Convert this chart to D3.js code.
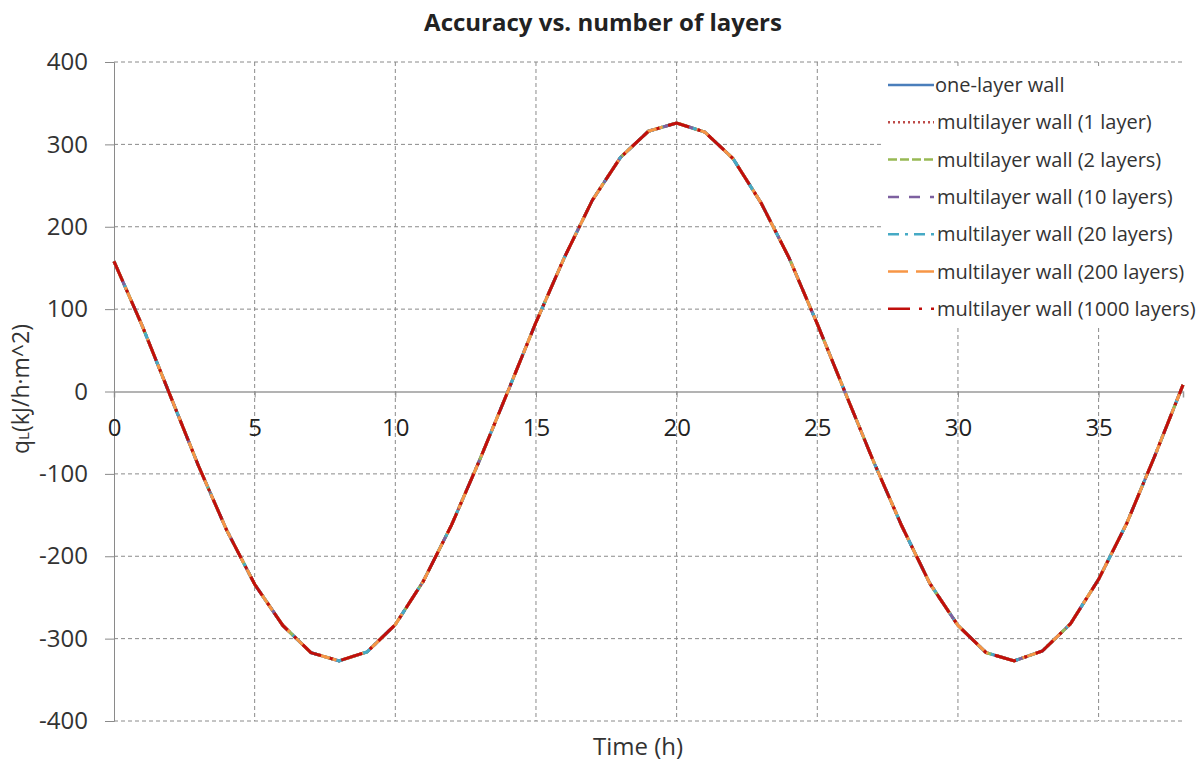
<!DOCTYPE html>
<html>
<head>
<meta charset="utf-8">
<script src="https://cdn.jsdelivr.net/npm/d3@7"></script>
<style>
  body { margin: 0; background: #fff; }
  svg text { font-family: "Open Sans", Lato, sans-serif; fill: #222; }
</style>
</head>
<body>
<div id="chart"></div>
<script>

// hours
var hours = [0, 1, 2, 3, 4, 5, 6, 7, 8, 9, 10, 11, 12, 13, 14, 15, 16, 17, 18, 19,
    20, 21, 22, 23, 24, 25, 26, 27, 28, 29, 30, 31, 32, 33, 34, 35, 36, 37, 38];

// qL (all seven curves lie on top of each other)
var qValues = [158, 80, -5, -90, -168, -234, -284, -317, -327, -316, -283, -230, -162, -83, 0,
    84, 162, 232, 284, 316, 326, 315, 283, 229, 162, 82, -2, -85, -163, -233, -284, -317, -327,
    -315, -282, -228, -160, -78, 8];

var seriesNames = ["one-layer wall", "multilayer wall (1 layer)", "multilayer wall (2 layers)",
    "multilayer wall (10 layers)", "multilayer wall (20 layers)", "multilayer wall (200 layers)",
    "multilayer wall (1000 layers)"];
var seriesColors = ["#4a7ebb", "#be4b48", "#98b954", "#7d60a0", "#46aac5", "#f79646", "#c00f0c"];
var seriesDash = [null, "2,3", "9,3", "11,10", "11,6,3,6", "20,8", "22,9,3,9"];

var xTicks = [0, 5, 10, 15, 20, 25, 30, 35];
var yTicks = [-400, -300, -200, -100, 0, 100, 200, 300, 400];

var width = 1201, height = 762;
var margin = {top: 62, right: 18, bottom: 41, left: 114};

var svg = d3.select("#chart").append("svg")
    .attr("width", width)
    .attr("height", height);

var x = d3.scaleLinear().domain([0, 38]).range([margin.left, width - margin.right]);
var y = d3.scaleLinear().domain([-400, 400]).range([height - margin.bottom, margin.top]);

var gridColor = "#8a8a8a";

// horizontal grid
svg.append("g")
    .selectAll("line")
    .data(yTicks.filter(d => d !== 0))
    .enter().append("line")
    .attr("x1", x(0)).attr("x2", x(38))
    .attr("y1", d => y(d)).attr("y2", d => y(d))
    .attr("stroke", gridColor)
    .attr("stroke-width", 1)
    .attr("stroke-dasharray", "4,3");

// vertical grid
svg.append("g")
    .selectAll("line")
    .data(xTicks.filter(d => d !== 0))
    .enter().append("line")
    .attr("x1", d => x(d)).attr("x2", d => x(d))
    .attr("y1", y(400)).attr("y2", y(-400))
    .attr("stroke", gridColor)
    .attr("stroke-width", 1)
    .attr("stroke-dasharray", "4,3");

// y axis (plain hyphen for negatives, like the original)
var yAxis = d3.axisLeft(y).tickValues(yTicks).tickSize(9).tickPadding(17)
    .tickFormat(d => String(d));
var yg = svg.append("g")
    .attr("transform", "translate(" + x(0) + ",0)")
    .call(yAxis);
yg.select(".domain").attr("stroke", gridColor);
yg.selectAll(".tick line").attr("stroke", gridColor);
yg.selectAll(".tick text")
    .style("font-size", "24px")
    .style("fill", "#333");

// x axis sits on zero line
var xAxis = d3.axisBottom(x).tickValues(xTicks).tickSize(6).tickPadding(21);
var xg = svg.append("g")
    .attr("transform", "translate(0," + y(0) + ")")
    .call(xAxis);
xg.select(".domain").attr("stroke", "#9a9a9a").attr("stroke-width", 1.5);
xg.selectAll(".tick line").attr("stroke", gridColor);
xg.selectAll(".tick text")
    .style("font-size", "24px")
    .style("fill", "#222");

var line = d3.line()
    .x((d, i) => x(hours[i]))
    .y(d => y(d));

// all series share the same curve, drawn in legend order
seriesNames.forEach(function (name, i) {
    svg.append("path")
        .datum(qValues)
        .attr("fill", "none")
        .attr("stroke", seriesColors[i])
        .attr("stroke-width", 3)
        .attr("stroke-dasharray", seriesDash[i])
        .attr("d", line);
});

// legend
var legend = svg.append("g");
legend.append("rect")
    .attr("x", 882).attr("y", 66)
    .attr("width", 319).attr("height", 262)
    .attr("fill", "#fff");

var rows = legend.selectAll("g.row")
    .data(seriesNames)
    .enter().append("g")
    .attr("class", "row")
    .attr("transform", (d, i) => "translate(888," + (85 + i * 37.3) + ")");
rows.append("line")
    .attr("x1", 0).attr("x2", 46)
    .attr("stroke", (d, i) => seriesColors[i])
    .attr("stroke-width", 2.5)
    .attr("stroke-dasharray", (d, i) => seriesDash[i]);
rows.append("text")
    .attr("x", (d, i) => i === 0 ? 47 : 49)
    .attr("dy", "0.35em")
    .style("font-size", "20px")
    .style("fill", "#333")
    .text(d => d);

// title
svg.append("text")
    .attr("x", 603).attr("y", 31)
    .attr("text-anchor", "middle")
    .style("font-size", "24px")
    .style("font-weight", "bold")
    .text("Accuracy vs. number of layers");

// axis titles
svg.append("text")
    .attr("x", 638).attr("y", 755)
    .attr("text-anchor", "middle")
    .style("font-size", "24px")
    .style("fill", "#333")
    .text("Time (h)");

var yTitle = svg.append("text")
    .attr("transform", "translate(29,389) rotate(-90)")
    .attr("text-anchor", "middle")
    .style("font-size", "23px")
    .style("fill", "#333");
yTitle.append("tspan").text("q");
yTitle.append("tspan").style("font-size", "15px").text("L");
yTitle.append("tspan").text("(kJ/h·m^2)");

</script>
</body>
</html>
